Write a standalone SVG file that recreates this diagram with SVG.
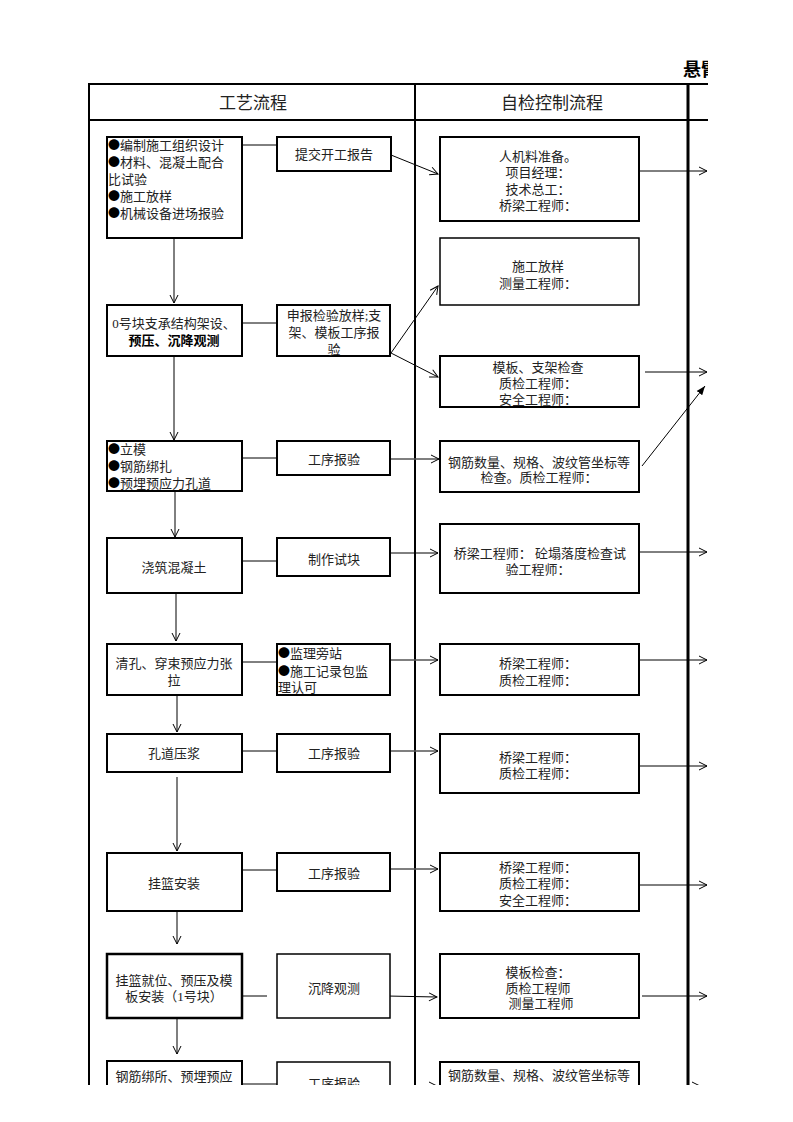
<svg xmlns="http://www.w3.org/2000/svg" width="793" height="1122" viewBox="0 0 793 1122">
<style>
text{font-family:"Liberation Serif","Noto Sans CJK SC",serif;font-size:13px;fill:#222}
.c{text-anchor:middle}
.h{font-size:17px;text-anchor:middle}
.b{font-weight:bold;fill:#000}
.d{font-family:"Noto Sans CJK SC",sans-serif;font-size:12px;fill:#000}
.box{fill:#fff;stroke:#000;stroke-width:2}
.thin{fill:#fff;stroke:#000;stroke-width:1.5}
.tl{stroke:#000;fill:none}
.ln{stroke:#000;stroke-width:1;fill:none}
.g{stroke:#555;stroke-width:1.5;fill:none}
</style>
<defs>
<clipPath id="page"><rect x="0" y="0" width="708" height="1085"/></clipPath>
<marker id="a" markerWidth="10" markerHeight="10" refX="9" refY="5" orient="auto" markerUnits="userSpaceOnUse">
<path d="M1,1 L9,5 L1,9" fill="none" stroke="#000" stroke-width="1"/>
</marker>
<marker id="f" markerWidth="10" markerHeight="10" refX="9" refY="5" orient="auto" markerUnits="userSpaceOnUse">
<path d="M0,1.5 L9,5 L0,8.5 Z" fill="#000"/>
</marker>
</defs>
<rect width="793" height="1122" fill="#fff"/>
<g clip-path="url(#page)">
<g id="title"><text x="683" y="76" class="b" style="font-size:18px">悬臂</text></g>
<g id="table">
<line class="tl" x1="88" y1="84" x2="708" y2="84" stroke-width="2"/>
<line class="tl" x1="88" y1="120" x2="708" y2="120" stroke-width="2"/>
<line class="tl" x1="89" y1="83" x2="89" y2="1085" stroke-width="2"/>
<line class="tl" x1="415" y1="83" x2="415" y2="1085" stroke-width="2"/>
<line class="tl" x1="688" y1="83" x2="688" y2="1085" stroke-width="3"/>
<text x="253" y="109" class="h">工艺流程</text>
<text x="552" y="109" class="h">自检控制流程</text>
</g>

<g id="connectors">
<line class="ln" x1="242" y1="145" x2="277" y2="145"/>
<line class="ln" x1="391" y1="155" x2="438" y2="174" marker-end="url(#a)"/>
<line class="ln" x1="639" y1="171" x2="707" y2="171" marker-end="url(#a)"/>
<line class="ln" x1="174" y1="238" x2="174" y2="303" marker-end="url(#a)"/>
<line class="ln" x1="242" y1="323" x2="277" y2="323"/>
<line class="ln" x1="391" y1="353" x2="438" y2="286" marker-end="url(#a)"/>
<line class="ln" x1="391" y1="353" x2="438" y2="377" marker-end="url(#a)"/>
<line class="ln" x1="645" y1="372" x2="707" y2="372" marker-end="url(#a)"/>
<line class="ln" x1="174" y1="356" x2="174" y2="440" marker-end="url(#a)"/>
<line class="ln" x1="242" y1="458" x2="277" y2="458"/>
<line class="g" x1="390" y1="459" x2="439" y2="459" marker-end="url(#a)"/>
<line class="ln" x1="642" y1="466" x2="705" y2="386" marker-end="url(#f)"/>
<line class="ln" x1="175" y1="491" x2="175" y2="537" marker-end="url(#a)"/>
<line class="ln" x1="242" y1="561" x2="277" y2="561"/>
<line class="ln" x1="388" y1="553" x2="438" y2="553" marker-end="url(#a)"/>
<line class="ln" x1="639" y1="552" x2="707" y2="552" marker-end="url(#a)"/>
<line class="ln" x1="176" y1="593" x2="176" y2="641" marker-end="url(#a)"/>
<line class="ln" x1="242" y1="662" x2="277" y2="662"/>
<line class="g" x1="390" y1="660" x2="438" y2="660" marker-end="url(#a)"/>
<line class="ln" x1="639" y1="660" x2="707" y2="660" marker-end="url(#a)"/>
<line class="ln" x1="177" y1="695" x2="177" y2="732" marker-end="url(#a)"/>
<line class="ln" x1="242" y1="751" x2="277" y2="751"/>
<line class="g" x1="390" y1="751" x2="438" y2="751" marker-end="url(#a)"/>
<line class="ln" x1="639" y1="766" x2="707" y2="766" marker-end="url(#a)"/>
<line class="g" x1="177" y1="777" x2="177" y2="851" marker-end="url(#a)"/>
<line class="ln" x1="242" y1="870" x2="277" y2="870"/>
<line class="g" x1="390" y1="869" x2="438" y2="869" marker-end="url(#a)"/>
<line class="ln" x1="639" y1="885" x2="707" y2="885" marker-end="url(#a)"/>
<line class="ln" x1="177" y1="911" x2="177" y2="944" marker-end="url(#a)"/>
<line class="ln" x1="242" y1="996" x2="267" y2="996"/>
<line class="ln" x1="387" y1="996" x2="437" y2="997" marker-end="url(#a)"/>
<line class="ln" x1="642" y1="996" x2="707" y2="996" marker-end="url(#a)"/>
<line class="g" x1="177" y1="1018" x2="177" y2="1054" marker-end="url(#a)"/>
<line class="ln" x1="242" y1="1084" x2="277" y2="1084"/>
<line class="g" x1="390" y1="1086" x2="437" y2="1086" marker-end="url(#a)"/>
<line class="g" x1="639" y1="1086" x2="700" y2="1086" marker-end="url(#a)"/>
</g>

<g id="n1"><rect class="box" x="107" y="137" width="135" height="101"/>
<text x="108" y="150"><tspan class="d">●</tspan>编制施工组织设计</text>
<text x="108" y="167"><tspan class="d">●</tspan>材料、混凝土配合</text>
<text x="108" y="184">比试验</text>
<text x="108" y="201"><tspan class="d">●</tspan>施工放样</text>
<text x="108" y="218"><tspan class="d">●</tspan>机械设备进场报验</text></g>
<g id="n1r"><rect class="box" x="277" y="137" width="114" height="34"/><text x="334" y="159" class="c">提交开工报告</text></g>
<g id="n1c"><rect class="box" x="440" y="137" width="199" height="84"/>
<text x="538" y="161" class="c">人机料准备。</text>
<text x="538" y="177" class="c">项目经理：</text>
<text x="538" y="194" class="c">技术总工：</text>
<text x="538" y="210" class="c">桥梁工程师：</text></g>
<g id="n1c2"><rect class="thin" x="440" y="238" width="199" height="67"/>
<text x="538" y="271" class="c">施工放样</text>
<text x="538" y="288" class="c">测量工程师：</text></g>

<g id="n2"><rect class="box" x="107" y="305" width="135" height="51"/>
<text x="174" y="328" class="c">0号块支承结构架设、</text>
<text x="174" y="345" class="c b">预压、沉降观测</text></g>
<g id="n2r"><rect class="box" x="277" y="305" width="113" height="51"/>
<text x="334" y="320" class="c">申报检验放样;支</text>
<text x="334" y="337" class="c">架、模板工序报</text>
<text x="334" y="354" class="c">验</text></g>
<g id="n2c"><rect class="box" x="440" y="356" width="199" height="51"/>
<text x="538" y="372" class="c">模板、支架检查</text>
<text x="538" y="388" class="c">质检工程师：</text>
<text x="538" y="404" class="c">安全工程师：</text></g>

<g id="n3"><rect class="box" x="107" y="441" width="135" height="50"/>
<text x="108" y="454"><tspan class="d">●</tspan>立模</text>
<text x="108" y="471"><tspan class="d">●</tspan>钢筋绑扎</text>
<text x="108" y="488"><tspan class="d">●</tspan>预埋预应力孔道</text></g>
<g id="n3r"><rect class="box" x="277" y="441" width="113" height="34"/><text x="334" y="464" class="c">工序报验</text></g>
<g id="n3c"><rect class="box" x="440" y="441" width="199" height="51"/>
<text x="539" y="467" class="c">钢筋数量、规格、波纹管坐标等</text>
<text x="539" y="482" class="c">检查。质检工程师：</text></g>

<g id="n4"><rect class="box" x="107" y="538" width="135" height="55"/><text x="174" y="572" class="c">浇筑混凝土</text></g>
<g id="n4r"><rect class="box" x="277" y="538" width="113" height="38"/><text x="334" y="564" class="c">制作试块</text></g>
<g id="n4c"><rect class="box" x="440" y="524" width="199" height="69"/>
<text x="540" y="558" class="c">桥梁工程师：  砼塌落度检查试</text>
<text x="538" y="574" class="c">验工程师：</text></g>

<g id="n5"><rect class="box" x="107" y="644" width="135" height="51"/>
<text x="174" y="668" class="c">清孔、穿束预应力张</text>
<text x="174" y="685" class="c">拉</text></g>
<g id="n5r"><rect class="box" x="277" y="644" width="113" height="51"/>
<text x="278" y="658"><tspan class="d">●</tspan>监理旁站</text>
<text x="278" y="676"><tspan class="d">●</tspan>施工记录包监</text>
<text x="278" y="692">理认可</text></g>
<g id="n5c"><rect class="box" x="440" y="644" width="199" height="51"/>
<text x="538" y="668" class="c">桥梁工程师：</text>
<text x="538" y="685" class="c">质检工程师：</text></g>

<g id="n6"><rect class="box" x="107" y="734" width="135" height="38"/><text x="174" y="758" class="c">孔道压浆</text></g>
<g id="n6r"><rect class="box" x="277" y="734" width="113" height="38"/><text x="334" y="758" class="c">工序报验</text></g>
<g id="n6c"><rect class="box" x="440" y="734" width="199" height="59"/>
<text x="538" y="762" class="c">桥梁工程师：</text>
<text x="538" y="778" class="c">质检工程师：</text></g>

<g id="n7"><rect class="box" x="107" y="853" width="135" height="58"/><text x="174" y="888" class="c">挂篮安装</text></g>
<g id="n7r"><rect class="box" x="277" y="853" width="113" height="38"/><text x="334" y="878" class="c">工序报验</text></g>
<g id="n7c"><rect class="box" x="440" y="853" width="199" height="58"/>
<text x="538" y="872" class="c">桥梁工程师：</text>
<text x="538" y="888" class="c">质检工程师：</text>
<text x="538" y="905" class="c">安全工程师：</text></g>

<g id="n8"><rect class="box" x="107" y="954" width="135" height="64" style="stroke-width:2.5"/>
<text x="174" y="985" class="c">挂篮就位、预压及模</text>
<text x="174" y="1001" class="c">板安装（1号块）</text></g>
<g id="n8r"><rect class="thin" x="277" y="954" width="113" height="64"/><text x="334" y="993" class="c">沉降观测</text></g>
<g id="n8c"><rect class="box" x="440" y="954" width="199" height="64"/>
<text x="538" y="977" class="c">模板检查：</text>
<text x="538" y="993" class="c">质检工程师</text>
<text x="541" y="1008" class="c">测量工程师</text></g>

<g id="n9"><rect class="box" x="107" y="1061" width="135" height="60"/>
<text x="174" y="1081" class="c">钢筋绑所、预埋预应</text></g>
<g id="n9r"><rect class="thin" x="277" y="1062" width="113" height="60"/>
<text x="334" y="1088" class="c">工序报验</text></g>
<g id="n9c"><rect class="box" x="440" y="1062" width="199" height="60"/>
<text x="539" y="1080" class="c">钢筋数量、规格、波纹管坐标等</text></g>
</g>
</svg>
